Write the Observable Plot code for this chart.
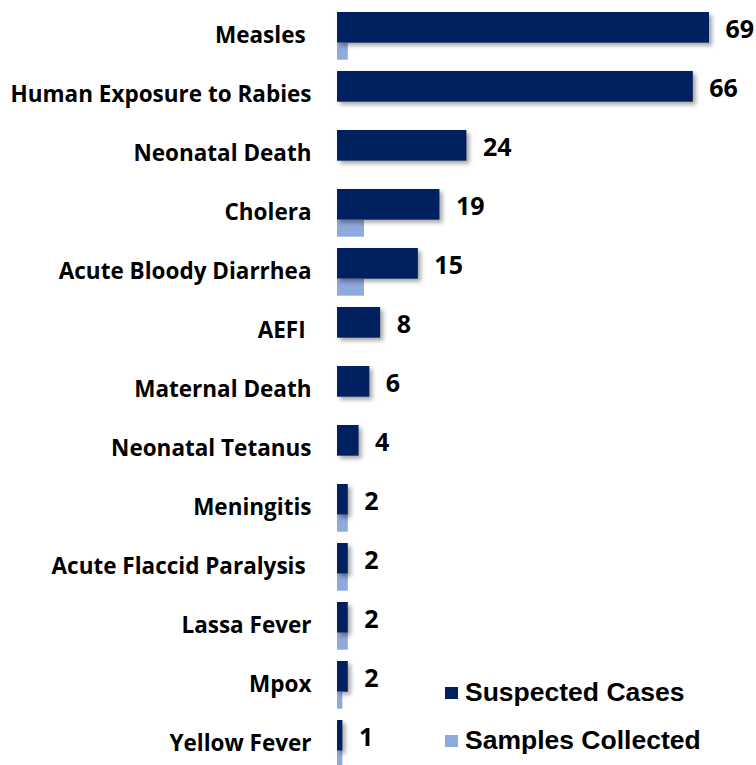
<!DOCTYPE html>
<html>
<head>
<meta charset="utf-8">
<script src="https://cdn.jsdelivr.net/npm/d3@7"></script>
<script src="https://cdn.jsdelivr.net/npm/@observablehq/plot@0.6"></script>
<style>
  html, body { margin: 0; padding: 0; background: #fff; }
  #wrap { position: relative; width: 756px; height: 765px; overflow: hidden; }
  .legend { position: absolute; left: 445px; font-family: "Liberation Sans", Arial, sans-serif; font-weight: bold; font-size: 26.5px; color: #000; display: flex; align-items: center; white-space: nowrap; }
  .legend span.sw { display: inline-block; width: 13px; height: 12px; margin-right: 7px; }
</style>
</head>
<body>
<div id="wrap"></div>
<script>
const categories = ["Measles\u00a0", "Human Exposure to Rabies", "Neonatal Death", "Cholera", "Acute Bloody Diarrhea", "AEFI\u00a0", "Maternal Death", "Neonatal Tetanus", "Meningitis", "Acute Flaccid Paralysis\u00a0", "Lassa Fever", "Mpox", "Yellow Fever"];
const suspectedCases = [69, 66, 24, 19, 15, 8, 6, 4, 2, 2, 2, 2, 1];
const samplesCollected = [2, 0, 0, 5, 5, 0, 0, 0, 2, 2, 2, 1, 1];
const seriesNames = ["Suspected Cases", "Samples Collected"];
const colors = ["#002060", "#8EA9DB"];

const data = categories.map((c, i) => ({cat: c, suspected: suspectedCases[i], samples: samplesCollected[i]}));
const shadow = "drop-shadow(3px 3px 2px rgba(0,0,0,0.35))";
const font = "'Open Sans', 'Noto Sans', sans-serif";

const chart = Plot.plot({
  width: 756,
  height: 765,
  marginLeft: 337,
  marginRight: 0,
  marginTop: 5,
  marginBottom: 0,
  style: {fontFamily: font, fontWeight: "bold", fontSize: "22px", color: "#000", background: "#fff"},
  x: {domain: [0, 69], range: [337, 709], axis: null},
  y: {domain: categories, range: [5, 5 + 13 * 59.33], padding: 0, axis: null},
  marks: [
    Plot.axisY({tickSize: 0, tickPadding: 26, fontSize: 22.5, fontWeight: "bold", fill: "#000", dy: -1, label: null}),
    Plot.barX(data, {x: "samples", y: "cat", fill: colors[1], insetTop: 36, insetBottom: 59.33 - 48 - 5}),
    Plot.barX(data, {x: "suspected", y: "cat", fill: colors[0], insetTop: 5, insetBottom: 59.33 - 36, imageFilter: shadow}),
    Plot.text(data, {x: "suspected", y: "cat", text: d => String(d.suspected), dx: 16, dy: -7, textAnchor: "start", fontSize: 25, fontWeight: "bold", fill: "#000"})
  ]
});

const wrap = document.getElementById("wrap");
wrap.appendChild(chart);

const legendTops = [677, 725];
seriesNames.forEach((name, i) => {
  const div = document.createElement("div");
  div.className = "legend";
  div.style.top = legendTops[i] + "px";
  div.innerHTML = `<span class="sw" style="background:${colors[i]}"></span>${name}`;
  wrap.appendChild(div);
});
</script>
</body>
</html>
